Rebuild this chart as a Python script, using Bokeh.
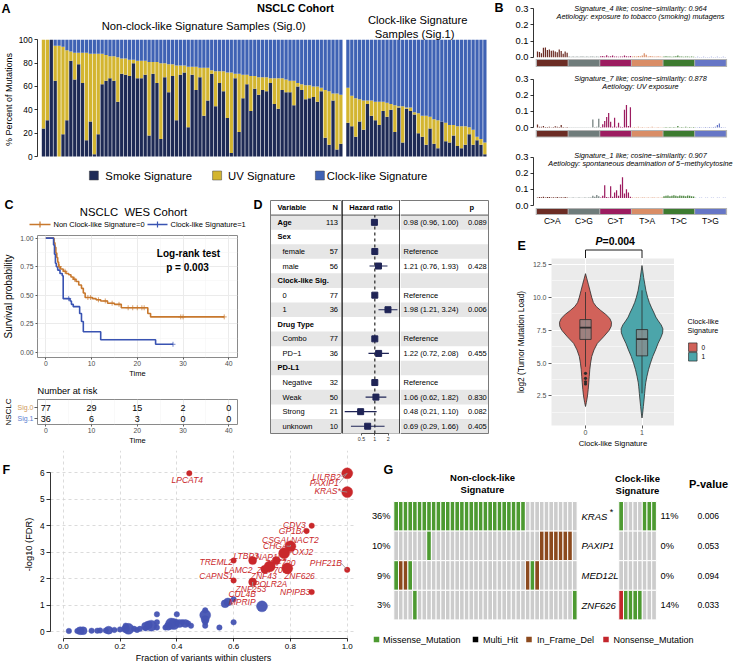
import numpy as np
from bokeh.plotting import figure
from bokeh.layouts import row, column
from bokeh.models import (FixedTicker, Range1d, LinearAxis, LogAxis, NumeralTickFormatter)
from bokeh.core.properties import value
from bokeh.embed import file_html
from bokeh.resources import INLINE

# ============================ DATA ============================
# Panel A : % of mutations per sample (clock-like = remainder to 100)
smoke_sig0 = [24,31,100,65,0,19,31,82,66,79,63,14,30,2,19,62,65,67,65,47,71,70,69,80,67,67,70,18,71,63,
              15,68,55,69,31,70,72,25,70,57,68,35,48,71,43,63,56,33,3,67,21,50,62,39,58,53,57,56,63,45,
              41,57,55,55,44,60,57,49,50,51,47,56,16,10,48,6,11]
uv_sig0 = [76,69,0,30,95,75,60,8,23,10,26,75,58,86,69,26,22,19,21,38,13,14,14,3,15,15,12,63,10,18,
           65,12,24,10,47,8,6,52,7,20,8,41,28,3,30,10,17,39,69,4,50,20,8,30,11,15,11,12,4,22,
           26,10,11,10,21,3,5,12,11,9,13,3,41,46,6,48,42]
smoke_sig1 = [29,26,17,30,23,45,35,31,27,39,34,40,21,42,12,41,39,36,20,17,10,24,11,7,30,13,12,18,9,7,10,19,10,14,10,2]
uv_sig1 = [30,26,33,19,25,3,13,16,20,8,12,5,23,1,31,1,3,2,17,18,25,10,21,24,0,16,15,9,17,19,16,6,13,3,5,10]

# Panel B : 96-channel signature profiles (16 contexts per substitution class)
mut_classes = ["C>A", "C>G", "C>T", "T>A", "T>C", "T>G"]
sig4_CA = [0.035,0.033,0.025,0.058,0.060,0.045,0.048,0.040,0.042,0.035,0.030,0.048,0.038,0.022,0.035,0.028]
sig4_CG = [0.004,0.003,0.005,0.003,0.004,0.003,0.004,0.005,0.003,0.004,0.003,0.004,0.005,0.003,0.004,0.003]
sig4_CT = [0.006,0.008,0.005,0.012,0.004,0.006,0.010,0.005,0.004,0.003,0.005,0.004,0.010,0.006,0.005,0.007]
sig4_TA = [0.004,0.006,0.005,0.008,0.006,0.010,0.025,0.015,0.005,0.007,0.006,0.004,0.005,0.006,0.004,0.003]
sig4_TC = [0.005,0.006,0.004,0.005,0.003,0.004,0.006,0.010,0.005,0.004,0.003,0.005,0.004,0.003,0.004,0.003]
sig4_TG = [0.002,0.003,0.002,0.002,0.003,0.002,0.002,0.002,0.003,0.002,0.002,0.003,0.002,0.002,0.003,0.002]
sig7_CA = [0.018,0.005,0.004,0.010,0.003,0.003,0.004,0.002,0.003,0.008,0.004,0.003,0.015,0.003,0.002,0.003]
sig7_CG = [0.002,0.001,0.001,0.001,0.002,0.001,0.001,0.002,0.001,0.001,0.002,0.001,0.050,0.003,0.004,0.055]
sig7_CT = [0.003,0.020,0.040,0.065,0.090,0.035,0.004,0.060,0.005,0.030,0.004,0.003,0.110,0.140,0.010,0.125]
sig7_TA = [0.002,0.003,0.002,0.004,0.002,0.003,0.002,0.002,0.003,0.002,0.004,0.002,0.002,0.003,0.002,0.002]
sig7_TC = [0.002,0.003,0.002,0.003,0.002,0.003,0.002,0.010,0.002,0.003,0.002,0.004,0.002,0.003,0.002,0.003]
sig7_TG = [0.002,0.002,0.003,0.002,0.002,0.003,0.002,0.003,0.002,0.003,0.004,0.015,0.025,0.003,0.002,0.002]
sig1_CA = [0.050,0.052,0.051,0.055,0.050,0.053,0.052,0.050,0.051,0.050,0.052,0.050,0.051,0.050,0.052,0.050]
sig1_CG = [0.048,0.048,0.049,0.048,0.048,0.049,0.048,0.048,0.049,0.048,0.050,0.049,0.060,0.055,0.065,0.058]
sig1_CT = [0.050,0.060,0.125,0.052,0.050,0.120,0.055,0.080,0.095,0.060,0.130,0.175,0.075,0.100,0.080,0.055]
sig1_TA = [0.049,0.048,0.050,0.049,0.048,0.049,0.050,0.048,0.049,0.048,0.050,0.049,0.048,0.049,0.048,0.049]
sig1_TC = [0.058,0.060,0.062,0.058,0.060,0.063,0.060,0.058,0.062,0.060,0.061,0.058,0.062,0.060,0.058,0.056]
sig1_TG = [0.048,0.047,0.048,0.048,0.047,0.048,0.048,0.047,0.048,0.048,0.047,0.048,0.048,0.047,0.048,0.048]
sig1_floor = 0.046

# Panel C : Kaplan-Meier
km0_t = [0,1.8,2.0,2.2,2.4,2.6,2.8,3.2,3.8,4.4,5.0,5.5,6.0,6.6,7.2,7.8,8.2,8.6,10.2,11.0,12.0,13.5,15.0,16.5,22.3,22.9,39.0]
km0_s = [1.0,0.96,0.92,0.87,0.83,0.79,0.75,0.73,0.71,0.69,0.68,0.66,0.64,0.62,0.59,0.56,0.52,0.48,0.47,0.46,0.45,0.43,0.42,0.39,0.34,0.31,0.31]
km1_t = [0,1.7,1.9,2.1,2.3,2.6,3.1,3.6,3.8,5.3,5.6,6.0,7.4,7.8,8.2,12.0,24.0,27.8]
km1_s = [1.0,0.94,0.86,0.78,0.75,0.72,0.69,0.67,0.47,0.45,0.42,0.40,0.34,0.27,0.18,0.11,0.07,0.07]
cens0 = [3.0,4.2,6.3,9.2,9.8,11.5,13.0,14.5,16.0,18.0,19.0,20.0,21.0,21.5,29.5,30.0,39.0]
cens1 = [5.0,27.8]
risk_t = [0,10,20,30,40]
risk0 = [77,29,15,2,0]
risk1 = [36,6,3,0,0]

# Panel D : Cox model
d_vars = ["Age","Sex","female","male","Clock-like Sig.","0","1","Drug Type","Combo","PD\u22121",
          "PD-L1","Negative","Weak","Strong","unknown"]
d_head = [1,1,0,0,1,0,0,1,0,0,1,0,0,0,0]
d_n = [113,None,57,56,None,77,36,None,77,36,None,32,50,21,10]
d_hr = [0.98,None,None,1.21,None,None,1.98,None,None,1.22,None,None,1.06,0.48,0.69]
d_lo = [0.96,None,None,0.76,None,None,1.21,None,None,0.72,None,None,0.62,0.21,0.29]
d_hi = [1.00,None,None,1.93,None,None,3.24,None,None,2.08,None,None,1.82,1.10,1.66]
d_p = [0.089,None,None,0.428,None,None,0.006,None,None,0.455,None,None,0.830,0.082,0.405]

# Panel E : violins (y, half-width) and box stats
v0_y = [1.7,2.0,2.5,3.0,3.5,4.0,4.5,5.0,5.5,6.0,6.5,7.0,7.5,7.8,8.1,8.4,8.7,9.0,9.3,9.6,10.0,10.5,11.0,11.4,11.8]
v0_w = [0.0,0.015,0.035,0.048,0.058,0.067,0.076,0.090,0.110,0.150,0.210,0.320,0.420,0.455,0.460,0.430,0.360,0.270,0.190,0.140,0.110,0.080,0.050,0.025,0.0]
v1_y = [0.83,1.2,1.7,2.2,2.7,3.2,3.5,4.0,4.5,5.0,5.5,6.0,6.5,7.0,7.3,7.6,7.9,8.2,8.5,8.8,9.2,9.6,10.0,10.5,11.0,11.5,12.0,12.42]
v1_w = [0.0,0.012,0.024,0.036,0.047,0.058,0.066,0.088,0.115,0.150,0.190,0.240,0.285,0.340,0.365,0.370,0.340,0.290,0.245,0.215,0.170,0.130,0.100,0.070,0.050,0.030,0.014,0.0]
box_q1 = [6.80, 5.55]
box_med = [7.70, 6.82]
box_q3 = [8.31, 7.55]
box_lo = [4.72, 2.70]
box_hi = [10.40, 10.53]
out0_y = [4.22, 3.84, 3.58, 3.41]

# Panel F : clustering scatter
blue_x = [0.02,0.05,0.06,0.07,0.10,0.12,0.13,0.15,0.16,0.18,0.20,0.22,0.22,0.23,0.25,0.26,0.27,0.29,0.29,0.30,
          0.31,0.33,0.33,0.33,0.36,0.37,0.38,0.39,0.40,0.40,0.41,0.42,0.43,0.44,0.45,0.50,0.50,0.50,0.50,0.50,
          0.55,0.57,0.58,0.60,0.60,0.70]
blue_y = [0.02,0.02,0.03,0.03,0.03,0.03,0.04,0.04,0.05,0.06,0.08,0.10,0.22,0.10,0.10,0.06,0.10,0.12,0.20,0.25,
          0.22,0.15,0.35,0.65,0.15,0.20,0.30,0.28,0.35,0.65,0.30,0.35,0.30,0.30,0.22,0.22,0.35,0.45,0.62,0.80,
          0.15,1.05,1.12,0.35,1.22,0.95]
blue_n = [1,1,2,2,1,1,1,1,2,1,1,2,1,3,1,1,1,1,2,2,3,1,1,1,1,2,3,3,1,1,2,1,2,1,1,1,1,2,3,1,1,2,2,1,1,3]
red_x = [0.444,1.0,1.0,0.875,0.857,0.80,0.778,0.667,0.75,0.60,0.727,0.71,0.789,1.0,0.60,0.667,0.875]
red_y = [5.98,5.98,5.27,4.00,3.80,3.22,2.96,2.68,2.68,2.68,2.46,2.35,2.39,2.33,1.93,1.87,1.49]
red_n = [1,3,3,1,1,3,3,2,2,1,3,2,3,1,1,2,1]
f_genes = ["LPCAT4","LILRB2","PAXIP1","KRAS*","CDV3","GP1BA","CSGALNACT2","CHGA","FOXJ2","LTBP3","NAP1L1",
           "TREML2","ZNF720","LAMC2","ZNF706","ZNF626","PHF21B","CAPNS1","ZNF43","POLR2A","ZNF253","CUL4B",
           "MPRIP","NPIPB3"]
f_gene_pt = [0,1,1,2,3,4,5,5,6,7,8,9,10,11,10,12,13,14,10,15,15,15,15,16]
f_lab_x = [0.437,0.927,0.919,0.931,0.814,0.809,0.800,0.747,0.834,0.644,0.733,0.539,0.764,0.617,0.736,0.832,
           0.925,0.539,0.706,0.730,0.661,0.630,0.630,0.817]
f_lab_y = [5.73,5.86,5.61,5.31,4.01,3.79,3.47,3.23,3.00,2.87,2.81,2.62,2.58,2.34,2.33,2.09,2.60,2.09,2.09,
           1.81,1.61,1.40,1.11,1.49]
f_leader = [0,1,1,1,0,0,1,1,0,0,0,0,0,0,0,0,1,0,0,0,1,1,0,0]

# Panel G : oncoprint (M missense, D in-frame del, N nonsense, . none)
g_genes = ["KRAS","PAXIP1","MED12L","ZNF626"]
g_star = [1,0,0,0]
g_left = ["MMMMMMMMMMMMMMMMMMMMMMMMMMMM...........",
          ".......M.......................DDDDDDD.",
          "MDDM........................DMD........",
          "....M.................................M"]
g_right = ["M....MMM", "........", "........", "NMMMM..."]
g_pct_left = [36,10,9,3]
g_pct_right = [11,0,0,14]
g_pval = [0.006,0.053,0.094,0.033]
g_legend = ["Missense_Mutation","Multi_Hit","In_Frame_Del","Nonsense_Mutation"]

# ============================ STYLE ============================
FONT = "Liberation Sans"
NAVY = "#1E2A55"; GOLD = "#D3B530"; CBLUE = "#3F62B4"
SIGCOL = ["#6B2C24", "#6F7C7B", "#9C1C60", "#D98D66", "#3D7B30", "#6676C6"]
ORANGE = "#C8782D"; KMBLUE = "#3953B2"
FNAVY = "#1F2456"
VRED = "#D1625A"; VTEAL = "#4CA5AA"
FBLUE = "#4553B2"; FRED = "#C9282B"
GCOL = {"M": "#4D9A31", "D": "#8C4A1E", "N": "#C3262C", ".": "#CCCCCC", "X": "#000000"}
LETTER = 12.5


def fs(v):
    return "%.1fpx" % v


def make_fig(ext, frame, xr, yr, **kw):
    x0, y0, x1, y1 = ext
    fx0, fy0, fx1, fy1 = frame
    p = figure(width=x1 - x0, height=y1 - y0, x_range=xr, y_range=yr,
               x_axis_location=None, y_axis_location=None, output_backend="svg",
               toolbar_location=None, **kw)
    p.min_border_left = fx0 - x0
    p.min_border_right = x1 - fx1
    p.min_border_top = fy0 - y0
    p.min_border_bottom = y1 - fy1
    p.frame_align = False
    p.outline_line_color = None
    p.xgrid.visible = False
    p.ygrid.visible = False
    p.background_fill_color = "white"
    p.border_fill_color = "white"
    return p


def ann_fig(ext):
    # annotation-only panel: data units are the panel's own pixels (y measured downward as -y)
    x0, y0, x1, y1 = ext
    return make_fig(ext, ext, Range1d(x0, x1), Range1d(-y1, -y0))


def txt(p, x, y, t, size, align="center", style="normal", color="#000000", angle=0.0):
    p.text(x=x, y=y, text=t, text_font=value(FONT), text_font_size=fs(size), text_align=align,
           text_baseline="middle", text_font_style=style, text_color=color, angle=angle)


def atext(p, rx, ry, t, size, align="left", style="normal", color="#000000", angle=0.0):
    txt(p, [rx], [-ry], [t], size, align, style, color, angle)


def add_axis(p, side, ticks, label=None, bounds="auto", tick_fs=8.0, label_fs=9.0, fmt=None,
             overrides=None, log=False, line=True, tick_out=3, col="#000000", lab_col="#000000",
             standoff=2, label_standoff=3):
    ax = (LogAxis if log else LinearAxis)(ticker=FixedTicker(ticks=ticks))
    ax.bounds = bounds
    if fmt is not None:
        ax.formatter = NumeralTickFormatter(format=fmt)
    if overrides is not None:
        ax.major_label_overrides = overrides
    if label is not None:
        ax.axis_label = label
    ax.axis_label_text_font = FONT
    ax.axis_label_text_font_size = fs(label_fs)
    ax.axis_label_text_font_style = "normal"
    ax.axis_label_text_color = "#000000"
    ax.axis_label_standoff = label_standoff
    ax.major_label_text_font = FONT
    ax.major_label_text_font_size = fs(tick_fs)
    ax.major_label_text_color = lab_col
    ax.major_label_standoff = standoff
    ax.major_tick_out = tick_out
    ax.major_tick_in = 0
    ax.minor_tick_out = 0
    ax.minor_tick_in = 0
    ax.major_tick_line_color = col
    ax.major_tick_line_width = 0.8
    ax.axis_line_color = col if line else None
    ax.axis_line_width = 0.8
    p.add_layout(ax, side)
    return ax


def set_grid(g, ticks, minor=None, color="#EBEBEB", width=1.0, mcolor="#F3F3F3", mwidth=0.5, dash=None):
    g.visible = True
    g.ticker = FixedTicker(ticks=ticks, minor_ticks=minor if minor else [])
    g.grid_line_color = color
    g.grid_line_width = width
    if dash is not None:
        g.grid_line_dash = dash
    if minor:
        g.minor_grid_line_color = mcolor
        g.minor_grid_line_width = mwidth


# ============================ PANEL A ============================
pAt = ann_fig((0, 0, 490, 15))
atext(pAt, 1, 8, "A", LETTER, style="bold")
atext(pAt, 295, 7.5, "NSCLC Cohort", 11, align="center", style="bold")


def xa(r): return -0.5 + (r - 40) / 3.922
def ya(r): return (156 - r) / 1.1667


pA = make_fig((0, 15, 490, 183), (36, 15, 490, 183), Range1d(xa(36), xa(490)), Range1d(ya(183), ya(15)))
n0, n1 = len(smoke_sig0), len(smoke_sig1)
xs_a = np.concatenate([np.arange(n0), n0 + 0.8 + np.arange(n1)])
smoke = np.array(smoke_sig0 + smoke_sig1, dtype=float)
uv = np.array(uv_sig0 + uv_sig1, dtype=float)
pA.vbar(x=xs_a, bottom=0, top=smoke, width=0.84, fill_color=NAVY, line_color=None)
pA.vbar(x=xs_a, bottom=smoke, top=smoke + uv, width=0.84, fill_color=GOLD, line_color=None)
pA.vbar(x=xs_a, bottom=smoke + uv, top=100, width=0.84, fill_color=CBLUE, line_color=None)
add_axis(pA, "left", [0, 20, 40, 60, 80, 100], label="% Percent of Mutations", bounds=(0, 100),
         tick_fs=8.3, label_fs=9, tick_out=3, standoff=2, label_standoff=2)
txt(pA, [xa(202.5), xa(417), xa(414)], [ya(25), ya(19), ya(33)],
    ["Non-clock-like Signature Samples (Sig.0)", "Clock-like Signature", "Samples (Sig.1)"], 11.2)
pA.scatter(x=[xa(92.5), xa(216), xa(319)], y=[ya(175)] * 3, marker="square", size=9,
           fill_color=[NAVY, GOLD, CBLUE], line_color="#444444", line_width=0.5)
txt(pA, [xa(104), xa(227), xa(326)], [ya(175)] * 3, ["Smoke Signature", "UV Signature", "Clock-like Signature"],
    11.3, align="left")

# ============================ PANEL B ============================
def xb(r): return (r - 536) / 1.977 - 0.5


sig4 = sig4_CA + sig4_CG + sig4_CT + sig4_TA + sig4_TC + sig4_TG
sig7 = sig7_CA + sig7_CG + sig7_CT + sig7_TA + sig7_TC + sig7_TG
sig1 = sig1_CA + sig1_CG + sig1_CT + sig1_TA + sig1_TC + sig1_TG
bar_cols = [c for c in SIGCOL for _ in range(16)]
B_specs = [
    (sig4, (512, 0, 738, 72), 56.7, (58.6, 66.4),
     [("Signature_4 like; cosine\u2212similarity: 0.964", 7.5), ("Aetiology: exposure to tobacco (smoking) mutagens", 15.5)], 0.0),
    (sig7, (490, 72, 738, 142), 127.0, (129.4, 137.0),
     [("Signature_7 like; cosine\u2212similarity: 0.878", 77.5), ("Aetiology: UV exposure", 86)], 0.0),
    (sig1, (490, 142, 738, 228), 205.0, (207.5, 214.5),
     [("Signature_1 like; cosine\u2212similarity: 0.907", 154.5), ("Aetiology: spontaneous deamination of 5\u2212methylcytosine", 163)], sig1_floor),
]
B_figs = []
for bi, (vals, ext, zero, (st, sb), titles, floor) in enumerate(B_specs):
    def yb(r, z=zero): return (z - r) / 161.3
    fr = (533, ext[1], 738, ext[3])
    pB = make_fig(ext, fr, Range1d(xb(533), xb(738)), Range1d(yb(ext[3]), yb(ext[1])))
    pB.vbar(x=np.arange(96), bottom=floor, top=vals, width=0.62, fill_color=bar_cols, line_color=None)
    pB.quad(left=[-0.9], right=[95.9], bottom=[yb(sb)], top=[yb(st)], fill_color="#B3B3B3", line_color=None)
    gl = [16 * g - 0.5 + 0.25 for g in range(6)]
    gr = [16 * g + 15.5 - 0.25 for g in range(6)]
    pB.quad(left=gl, right=gr, bottom=[yb(sb - 1.0)] * 6, top=[yb(st + 1.0)] * 6, fill_color=SIGCOL, line_color=None)
    add_axis(pB, "left", [0, 0.1, 0.2, 0.3], bounds=(0, 0.3), fmt="0.0", tick_fs=9.3, tick_out=3, standoff=2)
    txt(pB, [xb(640)] * len(titles), [yb(ty) for _, ty in titles], [t for t, _ in titles], 7.3, style="italic")
    if bi == 2:
        txt(pB, [16 * g + 7.5 for g in range(6)], [yb(220)] * 6, mut_classes, 8.5)
    B_figs.append(pB)
pBl = ann_fig((490, 0, 512, 72))
atext(pBl, 494, 7, "B", LETTER, style="bold")

# ============================ PANEL C ============================
def xc(r): return (r - 45.3) / 4.575
def yc(r): return (353.7 - r) / 116.0


pCh = ann_fig((0, 183, 250, 234))
atext(pCh, 4, 204, "C", LETTER, style="bold")
atext(pCh, 133, 211, "NSCLC\u00a0\u00a0WES Cohort", 11.3, align="center")
pCh.segment(x0=[29, 147], x1=[50, 167], y0=[-224, -224], y1=[-224, -224], line_color=[ORANGE, KMBLUE], line_width=1.6)
pCh.scatter(x=[39.5, 157], y=[-224, -224], marker="cross", size=6, line_color=[ORANGE, KMBLUE], line_width=1.2)
atext(pCh, 53, 224, "Non Clock-like Signature=0", 7.5)
atext(pCh, 170, 224, "Clock-like Signature=1", 7.5)

pCs = make_fig((0, 234, 250, 380), (37, 235, 237, 359), Range1d(xc(37), xc(237)), Range1d(yc(359), yc(235)))
pCs.outline_line_color = "#8A8A8A"
pCs.outline_line_width = 1
set_grid(pCs.xgrid, [0, 10, 20, 30, 40], [5, 15, 25, 35])
set_grid(pCs.ygrid, [0, 0.25, 0.5, 0.75, 1.0], [0.125, 0.375, 0.625, 0.875])
pCs.step(x=km0_t, y=km0_s, mode="after", line_color=ORANGE, line_width=1.6)
pCs.step(x=km1_t, y=km1_s, mode="after", line_color=KMBLUE, line_width=1.6)
t0a, s0a = np.array(km0_t), np.array(km0_s)
t1a, s1a = np.array(km1_t), np.array(km1_s)
c0y = s0a[np.searchsorted(t0a, cens0, side="right") - 1]
c1y = s1a[np.searchsorted(t1a, cens1, side="right") - 1]
pCs.scatter(x=cens0, y=c0y, marker="cross", size=5, line_color=ORANGE, line_width=1, line_alpha=0.7)
pCs.scatter(x=cens1, y=c1y, marker="cross", size=5, line_color=KMBLUE, line_width=1, line_alpha=0.7)
add_axis(pCs, "below", [0, 10, 20, 30, 40], label="Time", tick_fs=6.8, label_fs=7.5, tick_out=2,
         line=False, col="#333333", lab_col="#4D4D4D", standoff=1, label_standoff=0)
add_axis(pCs, "left", [0, 0.25, 0.5, 0.75, 1.0], label="Survival probability", fmt="0.00", tick_fs=6.8,
         label_fs=10, tick_out=2, line=False, col="#333333", lab_col="#4D4D4D", standoff=2, label_standoff=3)
txt(pCs, [xc(188), xc(187)], [yc(253), yc(268)], ["Log-rank test", "p = 0.003"], 10, style="bold")

pCrh = ann_fig((0, 380, 250, 397))
atext(pCrh, 37, 390, "Number at risk", 9.2)

pCrl = ann_fig((0, 397, 34, 450))
atext(pCrl, 8, 411.5, "NSCLC", 8, align="center", angle=np.pi / 2)
atext(pCrl, 33, 407, "Sig.0", 7, align="right", color="#D09A5C")
atext(pCrl, 33, 418, "Sig.1", 7, align="right", color="#5B7ED0")


def yrk(r): return (418 - r) / 11.0


pCr = make_fig((34, 397, 250, 450), (37, 399, 237, 424), Range1d(xc(37), xc(237)), Range1d(yrk(424), yrk(399)))
pCr.outline_line_color = "#8A8A8A"
set_grid(pCr.xgrid, [0, 10, 20, 30, 40], [5, 15, 25, 35])
txt(pCr, risk_t + risk_t, [1] * len(risk0) + [0] * len(risk1), [str(v) for v in risk0 + risk1], 9)
add_axis(pCr, "below", [0, 10, 20, 30, 40], label="Time", tick_fs=6.8, label_fs=7.5, tick_out=2,
         line=False, col="#333333", lab_col="#4D4D4D", standoff=1, label_standoff=0)
add_axis(pCr, "left", [0, 1], overrides={0: "", 1: ""}, tick_out=3, line=False, col="#333333", standoff=0)

# ============================ PANEL D ============================
def yd(r): return (433 - r) / 14.5625
def xm(r): return 10 ** ((r - 374.3) / 44.4)


rows_y = [14.5 - k for k in range(len(d_vars))]
shade_b = [14 - k for k in range(len(d_vars)) if k % 2 == 0]
shade_t = [15 - k for k in range(len(d_vars)) if k % 2 == 0]

pDl = make_fig((250, 183, 341, 450), (250, 183, 341, 450), Range1d(250, 341), Range1d(yd(450), yd(183)))
pDm = make_fig((341, 183, 400, 450), (341, 183, 400, 433), Range1d(xm(341), xm(400)), Range1d(yd(433), yd(183)),
               x_axis_type="log")
pDr = make_fig((400, 183, 490, 450), (400, 183, 490, 450), Range1d(400, 490), Range1d(yd(450), yd(183)))
for pD, lo_, hi_ in [(pDl, 270, 341), (pDm, xm(341), xm(400)), (pDr, 400, 488)]:
    pD.quad(left=lo_, right=hi_, bottom=shade_b, top=shade_t, fill_color="#E6E6E6", line_color=None)
    pD.segment(x0=[lo_, lo_, lo_], x1=[hi_, hi_, hi_], y0=[16, 15, 0], y1=[16, 15, 0],
               line_color=["#7A7A7A", "#555555", "#7A7A7A"], line_width=1)
pDl.segment(x0=[270], x1=[270], y0=[0], y1=[16], line_color="#7A7A7A", line_width=1)
pDr.segment(x0=[488], x1=[488], y0=[0], y1=[16], line_color="#7A7A7A", line_width=1)
pDm.segment(x0=[xm(341), xm(400)], x1=[xm(341), xm(400)], y0=[0, 0], y1=[16, 16], line_color="black", line_width=2.4)

hk = [k for k in range(len(d_vars)) if d_head[k]]
ik = [k for k in range(len(d_vars)) if not d_head[k]]
txt(pDl, [277] * len(hk), [rows_y[k] for k in hk], [d_vars[k] for k in hk], 7.5, align="left", style="bold")
txt(pDl, [282] * len(ik), [rows_y[k] for k in ik], [d_vars[k] for k in ik], 7.5, align="left")
nk = [k for k in range(len(d_vars)) if d_n[k] is not None]
txt(pDl, [337.5] * len(nk), [rows_y[k] for k in nk], [str(d_n[k]) for k in nk], 7.5, align="right")
txt(pDl, [277, 337.5], [15.5, 15.5], ["Variable", "N"], 7.5, align=["left", "right"], style="bold")
txt(pDl, [253], [yd(204)], ["D"], LETTER, align="left", style="bold")

pDm.segment(x0=[1], y0=[0], x1=[1], y1=[15], line_color="#333333", line_width=1.3, line_dash="3 3")
ck = [k for k in range(len(d_vars)) if d_lo[k] is not None]
pDm.segment(x0=[d_lo[k] for k in ck], x1=[d_hi[k] for k in ck], y0=[rows_y[k] for k in ck],
            y1=[rows_y[k] for k in ck], line_color=FNAVY, line_width=1.1)
pDm.scatter(x=[d_hr[k] if d_hr[k] is not None else 1.0 for k in nk], y=[rows_y[k] for k in nk],
            marker="square", size=6, fill_color=FNAVY, line_color=FNAVY)
txt(pDm, [xm(370.5)], [15.5], ["Hazard ratio"], 7.5, style="bold")
add_axis(pDm, "below", [0.5, 1, 2], log=True, bounds=(0.5, 2), overrides={0.5: "0.5", 1: "1", 2: "2"},
         tick_fs=5.3, tick_out=2, standoff=1, col="#333333", lab_col="#333333")

hr_txt = ["Reference" if d_hr[k] is None else "%.2f (%.2f, %.2f)" % (d_hr[k], d_lo[k], d_hi[k]) for k in nk]
txt(pDr, [403] * len(nk), [rows_y[k] for k in nk], hr_txt, 7.5, align="left")
pk = [k for k in range(len(d_vars)) if d_p[k] is not None]
txt(pDr, [467.5] * len(pk), [rows_y[k] for k in pk], ["%.3f" % d_p[k] for k in pk], 7.5, align="left")
txt(pDr, [469], [15.5], ["p"], 7.5, align="left", style="bold")

# ============================ PANEL E ============================
def xe(r): return (r - 585) / 56.5
def ye(r): return 2.5 + (396.3 - r) / 13.23


pEt = make_fig((490, 228, 738, 258), (490, 228, 738, 258), Range1d(xe(490), xe(738)), Range1d(-258, -228))
txt(pEt, [xe(517)], [-245], ["E"], LETTER, align="left", style="bold")
pEt.line(x=[0, 0, 1, 1], y=[-257.9, -249.5, -249.5, -257.9], line_color="black", line_width=0.9)
txt(pEt, [xe(602)], [-240], ["P"], 10.5, align="right", style="bold italic")
txt(pEt, [xe(602)], [-240], ["=0.004"], 10.5, align="left", style="bold")

pE = make_fig((490, 258, 674, 450), (551, 258, 674, 426), Range1d(xe(551), xe(674)), Range1d(ye(426), ye(258)))
pE.background_fill_color = "#EBEBEB"
set_grid(pE.ygrid, [2.5, 5, 7.5, 10, 12.5], [1.25, 3.75, 6.25, 8.75, 11.25], color="white", width=1.1,
         mcolor="white", mwidth=0.5)
set_grid(pE.xgrid, [0, 1], color="white", width=1.1)
for k, (vy, vw, colr) in enumerate([(v0_y, v0_w, VRED), (v1_y, v1_w, VTEAL)]):
    vy = np.array(vy); vw = np.array(vw)
    pE.patch(np.concatenate([k - vw, (k + vw)[::-1]]), np.concatenate([vy, vy[::-1]]),
             fill_color=colr, line_color="#2B2B2B", line_width=0.8)
pE.segment(x0=[0, 1], x1=[0, 1], y0=box_lo, y1=box_hi, line_color="#2B2B2B", line_width=0.8)
pE.quad(left=[-0.1, 0.9], right=[0.1, 1.1], bottom=box_q1, top=box_q3, fill_color="#8C8C8C",
        fill_alpha=0.75, line_color="#2B2B2B", line_width=0.8)
pE.segment(x0=[-0.1, 0.9], x1=[0.1, 1.1], y0=box_med, y1=box_med, line_color="#2B2B2B", line_width=1.8)
pE.scatter(x=[0] * len(out0_y), y=out0_y, size=3.2, fill_color="#2B2B2B", line_color=None)
add_axis(pE, "left", [2.5, 5, 7.5, 10, 12.5], label="log2 (Tumor Mutation Load)", fmt="0.0", tick_fs=7,
         label_fs=8.3, tick_out=3, line=False, col="#333333", lab_col="#4D4D4D", standoff=2, label_standoff=4)
add_axis(pE, "below", [0, 1], label="Clock-like Signature", tick_fs=7, label_fs=7.7, tick_out=3, line=False,
         col="#333333", lab_col="#4D4D4D", standoff=1, label_standoff=1)

pEl = ann_fig((674, 258, 738, 450))
atext(pEl, 687, 321, "Clock-like", 7.2)
atext(pEl, 687, 330, "Signature", 7.2)
pEl.scatter(x=[692.3, 692.3], y=[-346.7, -356.3], marker="square", size=8.5,
            fill_color=[VRED, VTEAL], line_color="#2B2B2B", line_width=0.7)
atext(pEl, 701, 346.7, "0", 6.5)
atext(pEl, 701, 356.3, "1", 6.5)

# ============================ PANEL F ============================
def xf(r): return (r - 62.7) / 284.0
def yf(r): return (631 - r) / 26.45


pFl = ann_fig((0, 450, 20, 666))
atext(pFl, 2, 469, "F", LETTER, style="bold")

pF = make_fig((20, 450, 356, 666), (50, 450, 356, 638), Range1d(xf(50), xf(356)), Range1d(yf(638), yf(450)))
set_grid(pF.xgrid, [0, 0.2, 0.4, 0.6, 0.8, 1.0], color="#D2D2D2", width=0.8, dash="3 3")
set_grid(pF.ygrid, [0, 1, 2, 3, 4, 5, 6], color="#D2D2D2", width=0.8, dash="3 3")
dsz = {1: 5.5, 2: 8.0, 3: 11.0}
pF.scatter(x=blue_x, y=blue_y, size=[dsz[v] for v in blue_n], fill_color=FBLUE, line_color=FBLUE,
           line_width=0.4, fill_alpha=0.95)
pF.scatter(x=red_x, y=red_y, size=[dsz[v] for v in red_n], fill_color=FRED, line_color=FRED, line_width=0.4)
sx0, sy0, sx1, sy1 = [], [], [], []
for g, lx, ly, k, fl in zip(f_genes, f_lab_x, f_lab_y, f_gene_pt, f_leader):
    if not fl:
        continue
    px_, py_ = red_x[k], red_y[k]
    hw = 0.5 * len(g) * 5.0 / 284.0
    sy = ly
    if px_ > lx + hw:
        sx = lx + hw
    elif px_ < lx - hw:
        sx = lx - hw
    else:
        sx = px_
        sy = ly + (0.2 if py_ > ly else -0.2)
    sx0.append(sx); sy0.append(sy); sx1.append(px_); sy1.append(py_)
pF.segment(x0=sx0, y0=sy0, x1=sx1, y1=sy1, line_color="#9A9A9A", line_width=0.8)
txt(pF, f_lab_x, f_lab_y, f_genes, 8.5, style="italic", color=FRED)
add_axis(pF, "left", [0, 1, 2, 3, 4, 5, 6], label="-log10 (FDR)", bounds=(0, 6), tick_fs=8.3, label_fs=9.3,
         tick_out=4, standoff=2, label_standoff=3)
add_axis(pF, "below", [0, 0.2, 0.4, 0.6, 0.8, 1.0], label="Fraction of variants within clusters", bounds=(0, 1),
         fmt="0.0", tick_fs=8.0, label_fs=9.0, tick_out=3, standoff=2, label_standoff=1)

# ============================ PANEL G ============================
def xg(r): return (r - 393.3) / 4.70
def yg(r): return 4 - (r - 501) / 29.6


pG = make_fig((356, 450, 738, 666), (356, 450, 738, 666), Range1d(xg(356), xg(738)), Range1d(yg(666), yg(450)))
right_off = len(g_left[0]) + 8.87
cl, cr, cb, ct, cc = [], [], [], [], []
for gi in range(len(g_genes)):
    rw = len(g_genes) - 1 - gi
    for off, codes in ((0.0, g_left[gi]), (right_off, g_right[gi])):
        for c, code in enumerate(codes):
            cl.append(off + c); cr.append(off + c + 1); cb.append(rw); ct.append(rw + 1); cc.append(GCOL[code])
pG.quad(left=cl, right=cr, bottom=cb, top=ct, fill_color=cc, line_color="white", line_width=1.0)
rows_g = [len(g_genes) - 0.5 - gi for gi in range(len(g_genes))]
txt(pG, [xg(390)] * 4, rows_g, ["%d%%" % v for v in g_pct_left], 9.3, align="right")
txt(pG, [xg(581)] * 4, rows_g, g_genes, 9.5, align="left", style="italic")
st_rows = [rows_g[gi] for gi in range(len(g_genes)) if g_star[gi]]
txt(pG, [xg(611)] * len(st_rows), [r + 0.13 for r in st_rows], ["*"] * len(st_rows), 9)
txt(pG, [xg(660)] * 4, rows_g, ["%d%%" % v for v in g_pct_right], 9.3, align="left")
txt(pG, [xg(697)] * 4, rows_g, ["%.3f" % v for v in g_pval], 8.6, align="left")
txt(pG, [xg(482), xg(482), xg(637), xg(637)], [yg(477), yg(489), yg(477.5), yg(489.5)],
    ["Non-clock-like", "Signature", "Clock-like", "Signature"], 9.5, style="bold")
txt(pG, [xg(708)], [yg(483.5)], ["P-value"], 11, style="bold")
txt(pG, [xg(383)], [yg(469)], ["G"], LETTER, align="left", style="bold")
pG.scatter(x=[xg(376), xg(475), xg(528.5), xg(605.5)], y=[yg(639)] * 4, marker="square", size=5.5,
           fill_color=[GCOL["M"], GCOL["X"], GCOL["D"], GCOL["N"]], line_color=None)
txt(pG, [xg(382.5), xg(482.5), xg(536.5), xg(613)], [yg(639.5)] * 4, g_legend, 9, align="left")

# ============================ LAYOUT ============================
c_col = column(pCh, pCs, pCrh, row(pCrl, pCr))
left_top = column(pAt, pA, row(c_col, pDl, pDm, pDr))
right_top = column(row(pBl, B_figs[0]), B_figs[1], B_figs[2], pEt, row(pE, pEl))
bottom = row(pFl, pF, pG)
page = column(row(left_top, right_top), bottom)
open("out.html", "w").write(file_html(page, INLINE, "NSCLC"))
